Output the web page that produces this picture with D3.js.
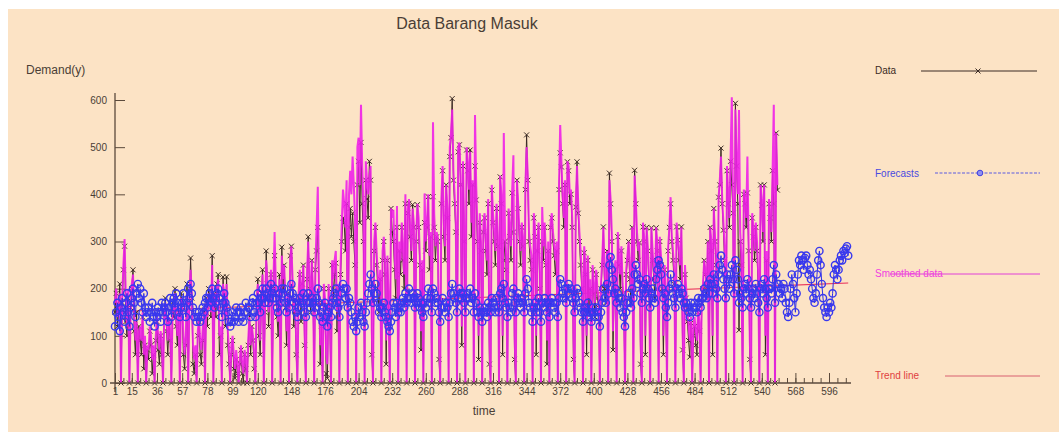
<html>
<head>
<meta charset="utf-8" />
<title>Data Barang Masuk</title>
<script src="https://cdn.jsdelivr.net/npm/d3@7/dist/d3.min.js"></script>
<style>
body { margin: 0; background: #ffffff; }
text { font-family: "Liberation Sans", Arial, sans-serif; }
</style>
</head>
<body>
<script>
// observed demand, one value per day (t = 1..553)
var dataValues = [
150,190,120,160,210,0,170, 240,290,130,100,180,0,160, 200,240,110,60,150,0,120,
90,60,140,30,80,0,70, 50,110,80,20,60,0,90, 130,70,40,100,60,0,150,
180,110,60,130,90,0,170, 140,200,120,80,150,0,190, 160,60,30,80,210,0,170,
265,180,40,20,60,0,100, 130,60,40,90,150,0,180, 120,200,180,140,270,0,190,
140,210,230,60,100,0,225, 180,120,225,80,40,0,60, 90,30,10,50,20,0,40,
70,20,0,60,30,0,80, 150,60,120,90,30,0,170, 220,100,60,190,240,0,150,
280,210,120,180,230,0,200, 270,190,140,100,230,0,288, 200,250,160,80,190,0,270,
290,200,120,170,60,0,180, 230,130,210,250,80,0,220, 310,200,150,260,190,0,240,
280,330,170,40,120,0,200, 160,20,10,200,130,0,250, 180,230,254,110,200,0,230,
300,350,340,280,380,0,330, 370,310,360,300,250,0,420, 470,340,510,380,300,0,430,
390,350,470,430,60,0,280, 330,250,200,150,220,0,260, 300,230,40,260,140,0,370,
320,300,240,180,330,0,280, 230,330,260,200,380,0,360, 381,310,260,378,330,0,300,
378,330,250,70,240,0,340, 280,330,395,240,310,0,395, 330,260,310,300,50,0,380,
450,310,260,420,350,0,480, 520,603,430,380,320,0,490, 505,420,80,460,300,0,494,
450,380,494,310,420,0,460, 388,300,50,340,280,0,320, 350,280,230,380,40,0,409,
340,300,250,370,290,0,437, 380,60,260,300,240,0,360, 310,260,403,320,50,0,430,
370,300,250,330,290,0,410, 526,430,300,260,240,0,350, 310,60,280,330,200,0,300,
260,330,250,40,280,0,330, 350,300,270,230,280,0,410, 488,458,380,330,420,0,469,
450,380,400,330,50,0,373, 469,360,300,250,200,0,276, 230,60,260,150,200,0,240,
190,140,230,180,160,0,200, 250,331,200,170,280,0,445, 380,300,70,200,240,0,310,
250,200,280,180,150,0,230, 260,300,220,170,330,0,451, 380,300,260,297,40,0,331,
300,60,330,280,200,0,329, 260,220,180,329,280,0,300, 250,200,60,240,160,0,280,
330,380,300,260,210,0,331, 303,260,220,331,70,0,230, 180,130,90,55,127,0,100,
120,80,60,150,110,0,170, 200,260,230,180,300,0,330, 280,60,370,300,250,0,394,
420,498,380,324,260,0,450, 380,330,470,420,360,0,593, 460,380,112,300,250,0,400,
380,330,403,280,50,0,350, 310,260,330,280,200,0,420, 377,300,420,60,260,0,380,
350,300,450,380,0,530,409
];

// smoothed data, same days
var smoothedValues = [
170,200,140,150,190,0,180, 250,305,180,120,200,0,150, 210,230,150,90,130,0,110,
120,90,150,60,100,0,80, 70,120,100,50,80,0,100, 140,100,70,110,90,0,140,
170,130,90,140,110,0,160, 150,190,140,100,160,0,180, 170,100,60,100,190,0,180,
240,190,80,50,80,0,110, 140,90,70,110,150,0,170, 140,190,180,150,250,0,190,
160,200,220,100,120,0,210, 190,140,210,110,70,0,80, 100,60,30,70,40,0,50,
80,40,20,70,50,0,90, 140,80,120,100,60,0,160, 210,130,90,180,230,0,160,
260,220,150,190,240,0,210, 320,210,160,130,220,0,270, 220,250,180,110,190,0,260,
290,220,150,180,90,0,190, 240,160,210,250,110,0,230, 300,220,170,260,200,0,250,
330,416,200,80,140,0,210, 180,60,40,210,150,0,260, 220,260,280,150,210,0,250,
340,410,380,330,430,0,400, 450,400,480,420,350,0,500, 520,420,590,460,380,0,470,
430,400,440,460,110,0,300, 340,280,230,190,240,0,280, 310,260,90,270,180,0,370,
350,367,270,220,375,0,300, 260,340,280,230,400,0,370, 390,330,280,370,340,0,310,
380,350,270,110,260,0,402, 300,340,400,270,320,0,553, 360,290,320,310,100,0,390,
460,340,290,420,370,0,500, 530,580,450,400,340,0,500, 510,440,120,470,330,0,500,
470,410,490,340,430,0,568, 420,330,100,360,300,0,340, 360,300,260,390,90,0,420,
360,320,280,380,310,0,440, 400,100,530,320,270,0,370, 330,290,410,483,100,0,430,
380,320,280,340,310,0,420, 500,440,320,290,270,0,360, 330,100,300,340,230,0,373,
290,340,280,90,300,0,340, 360,320,290,260,300,0,420, 547,470,400,350,430,0,470,
460,400,410,350,100,0,380, 460,380,320,280,230,0,290, 250,100,270,180,220,0,250,
210,170,240,200,180,0,210, 260,330,230,200,280,0,430, 390,320,110,230,260,0,320,
270,230,290,210,180,0,240, 270,300,240,200,330,0,440, 390,320,280,300,90,0,340,
310,100,330,290,230,0,330, 280,240,210,330,290,0,310, 270,230,100,250,190,0,290,
330,394,310,280,240,0,340, 310,280,250,330,110,0,250, 200,160,120,90,140,0,120,
140,110,90,160,130,0,180, 210,260,240,200,300,0,330, 300,100,370,310,270,0,394,
430,480,390,340,290,0,460, 400,350,480,606,390,0,580, 470,400,579,320,270,0,410,
390,350,480,300,90,0,360, 330,280,340,300,230,0,420, 390,320,420,100,280,0,390,
360,320,450,590,0,530,420
];

// forecasts, t = 1..612
var forecastValues = [
120,150,170,140,110,160,180, 150,130,170,190,150,120,160, 180,200,170,140,190,210,180,
200,170,150,190,160,140,150, 160,130,150,170,140,120,150, 140,160,150,130,170,150,160,
170,150,130,160,180,140,170, 180,160,190,170,150,140,160, 170,190,160,140,170,200,180,
210,190,160,140,150,130,140, 150,130,140,160,150,170,180, 160,180,190,170,200,180,160,
170,190,200,180,160,140,170, 190,170,160,150,130,120,130, 150,130,140,160,150,130,150,
160,140,130,150,170,150,160, 160,140,170,180,150,140,170, 190,170,150,180,200,180,170,
200,190,170,180,210,190,180, 200,180,160,150,190,170,200, 190,200,170,150,180,160,190,
210,190,170,180,150,140,160, 180,160,170,190,150,140,170, 190,170,160,180,170,150,160,
180,200,170,140,150,130,160, 170,140,120,150,160,140,170, 180,190,200,170,160,140,170,
190,210,200,180,200,160,180, 170,150,130,120,140,110,130, 160,140,170,150,130,120,150,
170,190,210,230,200,170,190, 210,190,170,150,160,140,160, 170,150,140,130,120,110,130,
150,170,160,140,170,150,160, 150,170,180,160,190,170,180, 200,180,170,190,180,160,170,
190,180,160,170,150,140,170, 160,180,200,170,180,150,200, 190,170,180,170,150,130,160,
180,160,150,170,160,140,170, 190,210,190,180,170,150,180, 200,190,180,190,170,150,180,
190,180,200,170,180,150,190, 170,150,140,160,150,130,150, 160,150,140,170,160,150,180,
170,160,150,180,160,150,190, 200,180,210,170,160,140,170, 160,150,190,200,170,150,180,
190,170,160,180,170,150,190, 220,200,170,160,150,130,160, 170,150,160,180,150,130,170,
160,180,170,150,170,140,170, 180,170,160,150,170,140,180, 220,210,190,180,200,170,200,
210,190,200,180,170,150,180, 200,190,170,160,150,130,150, 160,150,170,140,150,130,160,
150,140,160,150,140,120,150, 170,200,180,170,210,190,250, 267,240,220,190,200,170,190,
180,160,180,150,140,120,150, 170,190,170,160,200,180,230, 250,230,210,220,190,170,200,
210,190,220,200,180,160,190, 200,180,170,220,240,260,250, 230,200,180,190,160,140,170,
200,230,210,190,180,160,200, 210,190,180,200,190,170,160, 170,160,150,140,170,150,160,
170,160,150,180,170,160,180, 180,200,190,180,210,190,220, 210,190,230,210,200,180,230,
250,270,240,220,200,180,230, 220,200,230,250,220,190,260, 240,220,170,190,180,160,200,
210,190,220,200,180,160,190, 200,180,210,190,170,150,200, 210,190,220,200,180,160,200,
200,190,220,250,170,230,210, 210,190,200,180,210,200,170, 150,140,170,200,230,210,180,
150,190,230,260,250,270,260, 240,265,270,250,230,240,220, 200,180,170,190,230,260,280,
250,210,180,160,150,140,160, 150,170,160,190,230,250,240, 220,240,260,270,260,280,275,
285,290,270
];

var trendTime = [1, 612];
var trendValues = [151, 212];

var xTickLabels = [1, 15, 36, 57, 78, 99, 120, 148, 176, 204, 232, 260, 288, 316, 344, 372, 400, 428, 456, 484, 512, 540, 568, 596];
var yTickLabels = [0, 100, 200, 300, 400, 500, 600];

var W = 1059, H = 432;

var svg = d3.select("body").append("svg")
	.attr("width", W).attr("height", H)
	.style("display", "block");

svg.append("rect").attr("x", 8).attr("y", 9).attr("width", W - 8).attr("height", H - 9).attr("fill", "#fce3c5");

var xScale = d3.scaleLinear().domain([1, 612]).range([115, 848.2]);
var yScale = d3.scaleLinear().domain([0, 600]).range([383, 100]);

var dataPts = dataValues.map(function(v, i) { return {t: i + 1, v: v}; });
var smoothPts = smoothedValues.map(function(v, i) { return {t: i + 1, v: v}; });
var fcPts = forecastValues.map(function(v, i) { return {t: i + 1, v: v}; });
var trendPts = trendTime.map(function(t, i) { return {t: t, v: trendValues[i]}; });

var line = d3.line().x(function(d) { return xScale(d.t); }).y(function(d) { return yScale(d.v); });

var axisColor = "#5b4a3c";

// title and labels
svg.append("text").attr("x", 467).attr("y", 29).attr("text-anchor", "middle")
	.attr("font-size", "16px").attr("fill", "#4a3e36").text("Data Barang Masuk");
svg.append("text").attr("x", 26).attr("y", 74)
	.attr("font-size", "12px").attr("fill", "#4a3e36").text("Demand(y)");
svg.append("text").attr("x", 484).attr("y", 415).attr("text-anchor", "middle")
	.attr("font-size", "12px").attr("fill", "#4a3e36").text("time");

// axes
var yAxis = svg.append("g").attr("transform", "translate(115,0)")
	.call(d3.axisLeft(yScale).tickValues(yTickLabels).tickSizeInner(-10).tickSizeOuter(0).tickPadding(8));
yAxis.select(".domain").remove();
yAxis.selectAll("line").attr("stroke", axisColor);
yAxis.selectAll("text").attr("font-size", "10px").attr("fill", "#4a3e36").attr("font-family", "Liberation Sans, Arial, sans-serif");
svg.append("line").attr("x1", 115).attr("x2", 115).attr("y1", 93).attr("y2", 392).attr("stroke", axisColor).attr("stroke-width", 1.3);

// trend (mostly hidden under the other series)
svg.append("path").datum(trendPts).attr("d", line)
	.attr("fill", "none").attr("stroke", "#e8305a").attr("stroke-width", 1.1);

// series: data
var gData = svg.append("g");
gData.append("path").datum(dataPts).attr("d", line)
	.attr("fill", "none").attr("stroke", "#3a2a24").attr("stroke-width", 1);
gData.selectAll("path.mk").data(dataPts).enter().append("path").attr("class", "mk")
	.attr("transform", function(d) { return "translate(" + xScale(d.t) + "," + yScale(d.v) + ")"; })
	.attr("d", "M-2.5,-2.5L2.5,2.5M-2.5,2.5L2.5,-2.5")
	.attr("stroke", "#3a2a24").attr("stroke-width", 1).attr("fill", "none");

// smoothed
svg.append("path").datum(smoothPts).attr("d", line)
	.attr("fill", "none").attr("stroke", "#f020e8").attr("stroke-width", 2).attr("stroke-opacity", 0.9);

// forecasts
svg.append("path").datum(fcPts).attr("d", line)
	.attr("fill", "none").attr("stroke", "#3030e8").attr("stroke-width", 1);
svg.selectAll("circle.fc").data(fcPts).enter().append("circle").attr("class", "fc")
	.attr("cx", function(d) { return xScale(d.t); })
	.attr("cy", function(d) { return yScale(d.v); })
	.attr("r", 3.6).attr("fill", "none").attr("stroke", "#3838ee").attr("stroke-width", 1.4);

// x axis on top
var xAxis = svg.append("g").attr("transform", "translate(0,383)")
	.call(d3.axisBottom(xScale).tickValues(xTickLabels).tickSizeInner(-10).tickSizeOuter(0).tickPadding(5));
xAxis.select(".domain").remove();
xAxis.selectAll("line").attr("stroke", axisColor);
xAxis.selectAll("text").attr("font-size", "10px").attr("fill", "#4a3e36").attr("font-family", "Liberation Sans, Arial, sans-serif");
var minor = svg.append("g").attr("transform", "translate(0,383)")
	.call(d3.axisBottom(xScale).tickValues(d3.range(1, 611, 7)).tickSizeInner(-5).tickSizeOuter(0).tickFormat(""));
minor.select(".domain").remove();
minor.selectAll("line").attr("stroke", axisColor);
svg.append("line").attr("x1", 110).attr("x2", 851).attr("y1", 383).attr("y2", 383).attr("stroke", axisColor).attr("stroke-width", 1.3);

// legend
var lg = svg.append("g");
lg.append("line").attr("x1", 921).attr("x2", 1037).attr("y1", 71).attr("y2", 71).attr("stroke", "#3a2a24");
lg.append("path").attr("transform", "translate(978,71)").attr("d", "M-2.5,-2.5L2.5,2.5M-2.5,2.5L2.5,-2.5").attr("stroke", "#3a2a24");
lg.append("text").attr("x", 875).attr("y", 74).attr("font-size", "10px").attr("fill", "#3a2a24").text("Data");

lg.append("line").attr("x1", 935).attr("x2", 1040).attr("y1", 173).attr("y2", 173).attr("stroke", "#5a5ae0").attr("stroke-dasharray", "3,1.5");
lg.append("circle").attr("cx", 980).attr("cy", 173).attr("r", 2.8).attr("fill", "#9090f0").attr("stroke", "#4040e0");
lg.append("text").attr("x", 875).attr("y", 177).attr("font-size", "10px").attr("fill", "#4a4ae0").text("Forecasts");

lg.append("line").attr("x1", 890).attr("x2", 1040).attr("y1", 274).attr("y2", 274).attr("stroke", "#e040d8");
lg.append("text").attr("x", 875).attr("y", 277).attr("font-size", "10px").attr("fill", "#f040e0").text("Smoothed data");

lg.append("line").attr("x1", 945).attr("x2", 1040).attr("y1", 376).attr("y2", 376).attr("stroke", "#d86070");
lg.append("text").attr("x", 875).attr("y", 379).attr("font-size", "10px").attr("fill", "#e04040").text("Trend line");
</script>
</body>
</html>
